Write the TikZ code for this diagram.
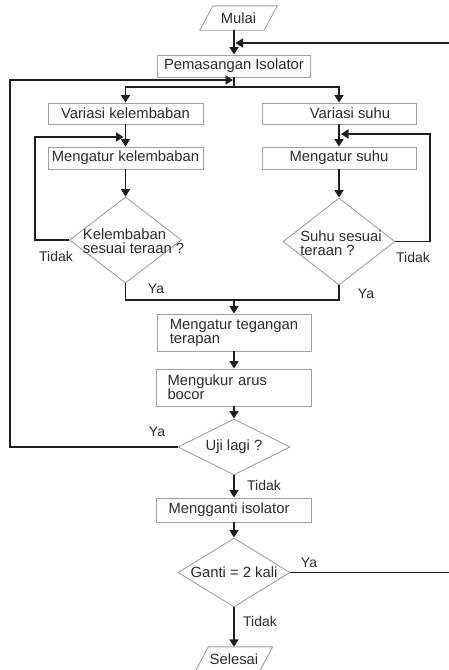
\documentclass[tikz,border=0pt]{standalone}
\usepackage{fontspec}
\setmainfont{Liberation Sans}
\usetikzlibrary{arrows.meta,shapes.geometric,calc}
\definecolor{boxgray}{HTML}{A0A0A0}
\definecolor{txt}{HTML}{2B2B2B}
\definecolor{lncol}{HTML}{1E1E1E}
\begin{document}
\begin{tikzpicture}[x=1pt,y=1pt,
  every node/.style={text=txt, font=\fontsize{14.8}{14}\selectfont},
  box/.style={draw=boxgray, line width=0.9pt, fill=white, inner sep=0pt},
  dia/.style={draw=boxgray, line width=0.9pt, diamond, aspect=1, inner sep=0pt},
  pgram/.style={draw=boxgray, line width=0.9pt},
  lab/.style={font=\fontsize{14}{14}\selectfont},
  conn/.style={draw=lncol, line width=1.7pt, line join=miter},
  arr/.style={conn, -{Triangle[length=7.5pt,width=9pt]}}]
\useasboundingbox (0,0) rectangle (448,-670);
\fill[white] (0,0) rectangle (448,-670);

% nodes
\node[minimum width=64pt, minimum height=24pt, inner sep=0pt] (mulai) at (238.5,-18) {Mulai};
\draw[pgram] ($(mulai.south west)+(-6.5,0)$) -- ($(mulai.north west)+(6.5,0)$) -- ($(mulai.north east)+(6.5,0)$) -- ($(mulai.south east)+(-6.5,0)$) -- cycle;

\node[box, minimum width=153pt, minimum height=22pt] (pem) at (234,-66) {Pemasangan Isolator};
\node[box, minimum width=155pt, minimum height=21pt] (vk) at (125.5,-113.5) {Variasi kelembaban};
\node[box, minimum width=154pt, minimum height=21pt] (vs) at (339,-113.5) {\hspace*{22pt}Variasi suhu};
\node[box, minimum width=155pt, minimum height=22pt] (mk) at (125.5,-158) {Mengatur kelembaban};
\node[box, minimum width=154pt, minimum height=22pt] (ms) at (339,-158) {Mengatur suhu};

\node[dia, minimum width=112pt, minimum height=86pt] (dk) at (125.5,-240) {};
\node[align=left] (tk) at ($(dk)+(8,-1.5)$) {Kelembaban\\sesuai teraan ?};
\node[dia, minimum width=112pt, minimum height=87pt] (ds) at (339,-241.5) {};
\node[align=left] (ts) at ($(ds)+(2,-1.5)$) {Suhu sesuai\\teraan ?};

\node[box, minimum width=154pt, minimum height=37pt, align=left] (mt) at (234,-332.5) {Mengatur tegangan\\terapan};
\node[box, minimum width=155pt, minimum height=37pt, text width=133pt, align=left] (mu) at (234,-387.5) {Mengukur arus\\bocor};
\node[dia, minimum width=112pt, minimum height=56pt] (du) at (234,-447) {};
\node (tu) at (du) {Uji lagi ?};
\node[box, minimum width=155pt, minimum height=24pt] (mg) at (234,-510) {Mengganti isolator\hspace*{10pt}};
\node[dia, minimum width=112pt, minimum height=69pt] (dg) at (234,-572.5) {};
\node (tg) at (dg) {Ganti = 2 kali};

\node[minimum width=64pt, minimum height=24pt, inner sep=0pt] (sel) at (234,-659) {Selesai};
\draw[pgram] ($(sel.south west)+(-6.5,0)$) -- ($(sel.north west)+(6.5,0)$) -- ($(sel.north east)+(6.5,0)$) -- ($(sel.south east)+(-6.5,0)$) -- cycle;

% coordinates
\coordinate (jtop) at (235.5,-43);
\coordinate (rc) at (470,-572.5);
\coordinate (jleft) at (233,-80);
\coordinate (lc) at (10,-447);
\coordinate (sp) at (234,-87);
\coordinate (kl) at (35,-240);
\coordinate (kj) at (123.5,-137);
\coordinate (sr) at (430,-241.5);
\coordinate (sj) at (341,-134);
\coordinate (jm) at (234,-300);

% connectors
\draw[arr] (mulai.south -| pem.north) -- (pem.north);
\draw[arr] (dg.east) -- (rc) |- (jtop);
\draw[arr] (du.west) -- (lc) |- (jleft);
\draw[conn] (pem.south) -- (sp);
\draw[arr] (sp) -| (vk.north);
\draw[arr] (sp) -| (vs.north);
\draw[arr] (vk.south) -- (mk.north);
\draw[arr] (dk.west) -- (kl) |- (kj);
\draw[arr] (mk.south) -- (dk.north);
\draw[arr] (vs.south) -- (ms.north);
\draw[arr] (ds.east) -- (sr) |- (sj);
\draw[arr] (ms.south) -- (ds.north);
\draw[conn] (dk.south) |- (jm);
\draw[conn] (ds.south) |- (jm);
\draw[arr] (jm) -- (mt.north);
\draw[arr] (mt.south) -- (mu.north);
\draw[arr] (mu.south) -- (du.north);
\draw[arr] (du.south) -- (mg.north);
\draw[arr] (mg.south) -- (dg.north);
\draw[arr] (dg.south) -- (sel.north);

% labels
\node[lab] (l1) at (56,-256) {Tidak};
\node[lab] (l2) at (156,-289) {Ya};
\node[lab] (l3) at (413,-257) {Tidak};
\node[lab] (l4) at (366,-294) {Ya};
\node[lab] (l5) at (157,-432) {Ya};
\node[lab] (l6) at (264,-485) {Tidak};
\node[lab] (l7) at (309,-563) {Ya};
\node[lab] (l8) at (260,-621) {Tidak};
\end{tikzpicture}
\end{document}
